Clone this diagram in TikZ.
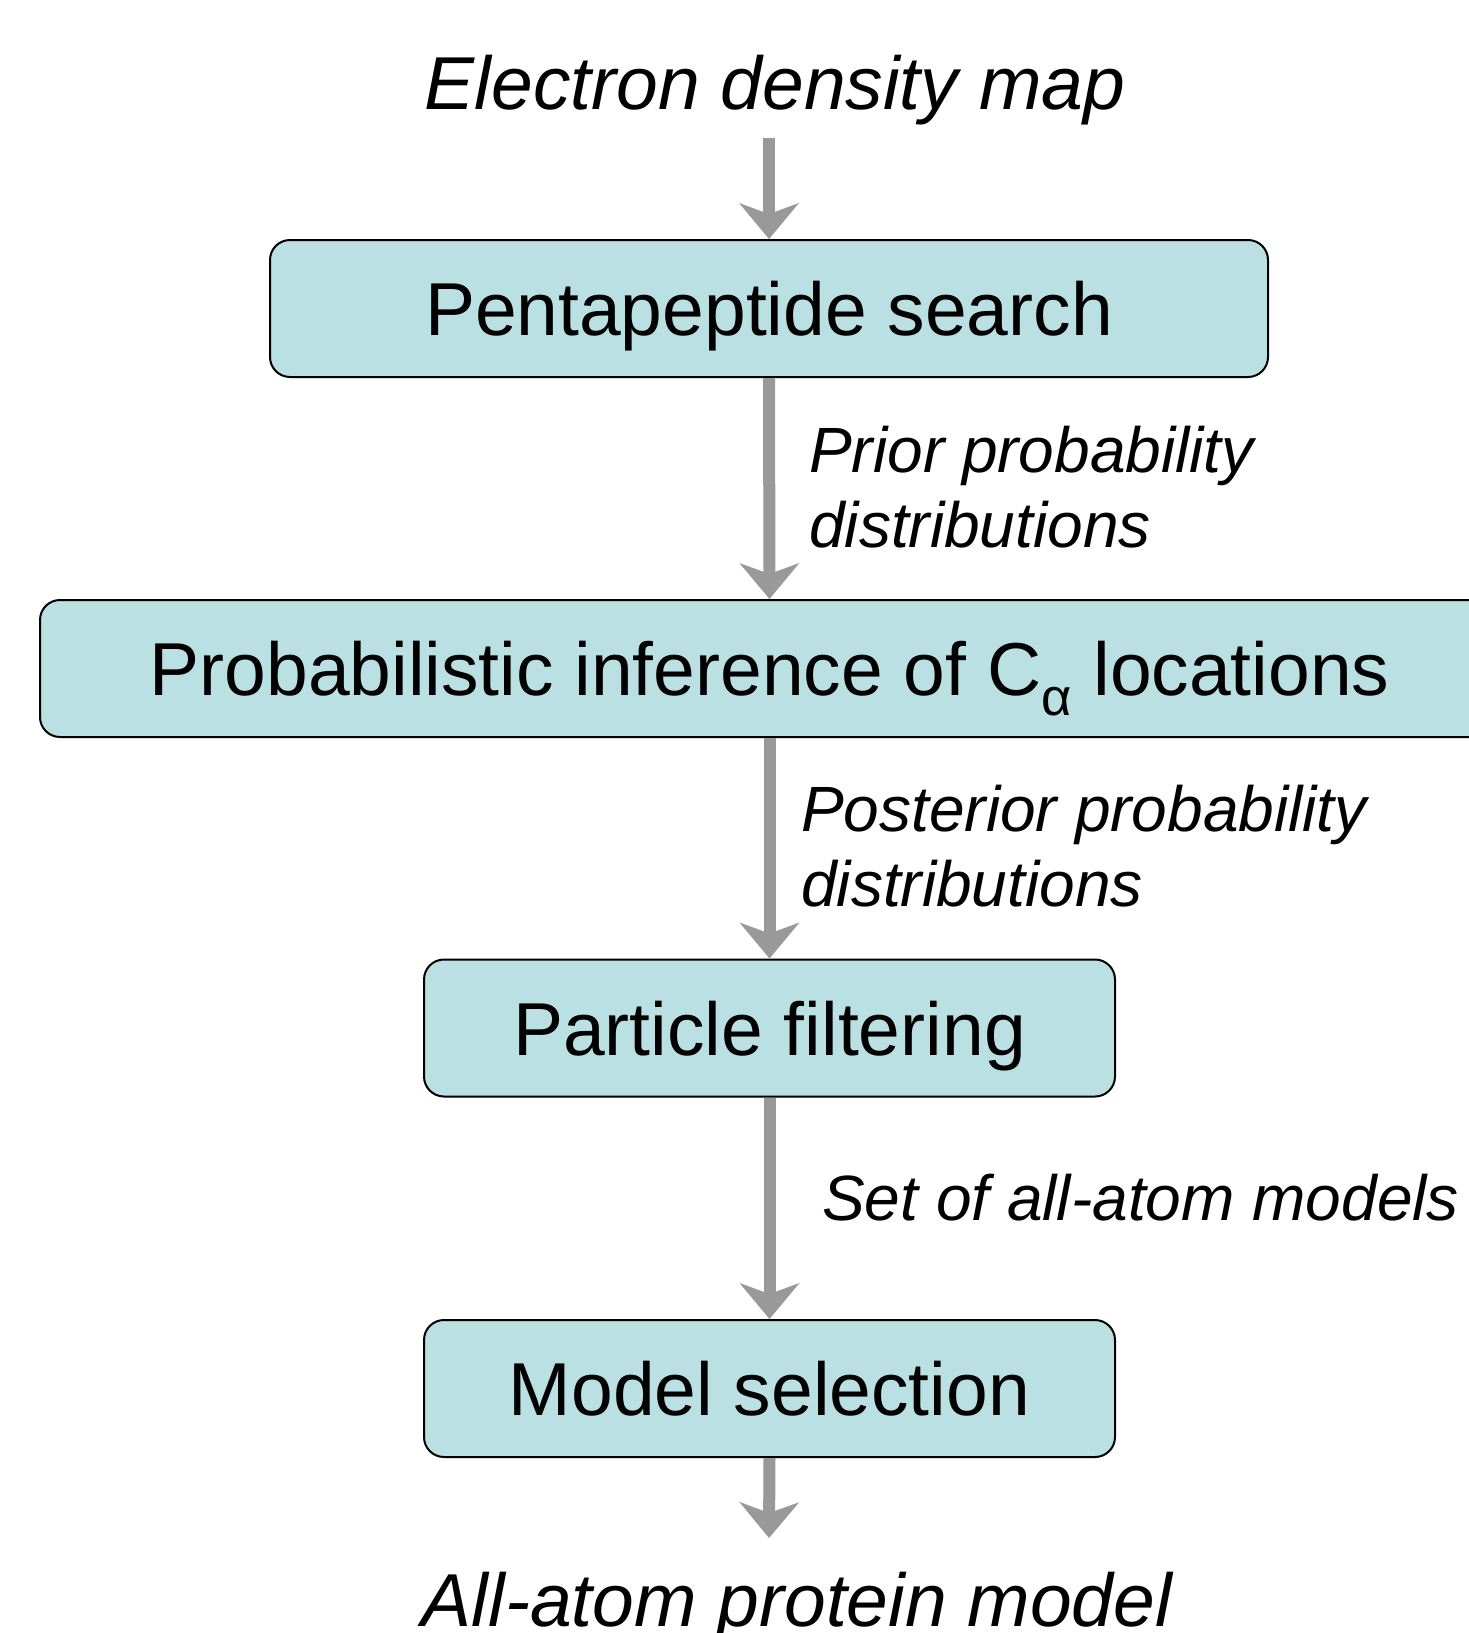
\documentclass[tikz,border=0pt]{standalone}
\usepackage{fontspec}
\setmainfont{Liberation Sans}
\usetikzlibrary{arrows.meta}
\definecolor{boxfill}{RGB}{186,224,227}
\definecolor{flowgray}{RGB}{153,153,153}
\begin{document}
\begin{tikzpicture}[x=1pt,y=-1pt,
  stage/.style={draw=black, line width=2pt, fill=boxfill, rounded corners=20pt,
    minimum height=137pt, inner sep=0pt, text height=54pt, text depth=0pt,
    font=\fontsize{75}{90}\selectfont},
  flow/.style={draw=flowgray, line width=12pt,
    -{Stealth[length=36pt,width=60pt,inset=11pt,line width=0pt]}},
  note/.style={font=\fontsize{64}{75}\selectfont\itshape, align=left,
    anchor=base west, inner sep=0pt},
  term/.style={font=\fontsize{75}{90}\selectfont\itshape, anchor=base, inner sep=0pt}]
  \useasboundingbox (0,0) rectangle (1468,1633);

  % input and output
  \node[term] (map) at (775,109) {Electron density map};
  \node[term] (model) at (797,1626) {All-atom protein model};
  \coordinate (inTop) at (769,138);
  \coordinate (outTip) at (769,1538);

  % processing stages
  \node[stage, minimum width=998pt] (penta) at (769,308.5) {Pentapeptide search};
  \node[stage, minimum width=1459pt] (infer) at (769.5,668.5)
    {Probabilistic inference of C\textsubscript{α} locations};
  \node[stage, minimum width=691pt] (filter) at (769.5,1028) {Particle filtering};
  \node[stage, minimum width=691pt] (select) at (769.5,1388.5) {Model selection};

  % flow between stages
  \draw[flow] (inTop) -- (penta.north);
  \draw[flow] (penta.south) -- (infer.north);
  \draw[flow] (infer.south) -- (filter.north);
  \draw[flow] (filter.south) -- (select.north);
  \draw[flow] (select.south) -- (outTip);

  % edge labels (anchored on the baseline of their last line)
  \node[note] (prior) at (809,547) {Prior probability\\distributions};
  \node[note] (post) at (801,906) {Posterior probability\\distributions};
  \node[note] (set) at (822,1220) {Set of all-atom models};
\end{tikzpicture}
\end{document}
